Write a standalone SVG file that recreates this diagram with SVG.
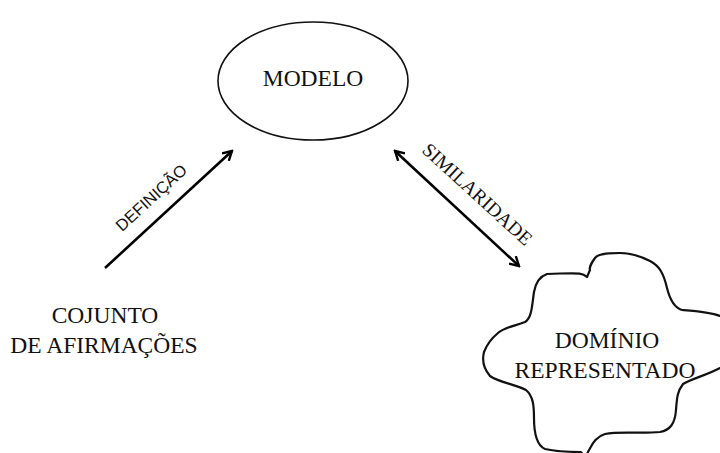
<svg xmlns="http://www.w3.org/2000/svg" width="720" height="453" viewBox="0 0 720 453">
<defs>
<style>
.lbl{font-family:"Liberation Serif","DejaVu Serif",serif;font-size:23.5px;fill:#111;text-anchor:middle}
.edge{stroke:#000;stroke-width:2.6;fill:none}
.elbl{fill:#111;text-anchor:middle}
.sans{font-family:"Liberation Sans","DejaVu Sans",sans-serif;font-size:16.5px}
.serif{font-family:"Liberation Serif","DejaVu Serif",serif;font-size:19.5px}
</style>
<marker id="ah" viewBox="0 0 12 12" refX="10" refY="6" markerWidth="12" markerHeight="12" markerUnits="userSpaceOnUse" orient="auto-start-reverse">
<path d="M1,1 L10,6 L1,11" fill="none" stroke="#000" stroke-width="2.4" stroke-linejoin="miter"/>
</marker>
</defs>
<rect width="720" height="453" fill="#fff"/>
<g id="modelo">
<ellipse cx="313" cy="81" rx="95" ry="59" fill="#fff" stroke="#111" stroke-width="1.6"/>
<text class="lbl" x="313" y="86">MODELO</text>
</g>
<g id="afirmacoes">
<text class="lbl" x="105" y="323">COJUNTO</text>
<text class="lbl" x="104" y="353">DE AFIRMAÇÕES</text>
</g>
<g id="dominio">
<path d="M587,277 C583,273 580,273 560,273.5 L547,274 C541,276 536,281 534,292 C532,305 532,318 525,322 C515,326 505,327 498,333 C492,338 487,344 484,352 C482,360 483,368 490,376 C500,383 515,384 526,390 C533,396 534,405 534,418 C534,432 536,445 545,449 C558,452 570,452 581,452 L585,458 L589,450 C592,445 595,437 605,434 C620,431 640,434 660,432 C670,430 675,424 676,410 C677,398 677,392 683,384 C693,378 705,376 720,368 L730,366 L730,318 L720,316 C710,312 695,311 682,310 C675,308 670,300 667,288 C664,275 660,266 650,261 C640,256 630,253 620,253 C605,253 598,254 595,258 C592,262 589,268 590,270 Z" fill="#fff" stroke="#111" stroke-width="2.2" stroke-linejoin="round"/>
<text class="lbl" x="607" y="348">DOMÍNIO</text>
<text class="lbl" x="605" y="378">REPRESENTADO</text>
</g>
<g id="connectors">
<line class="edge" x1="105" y1="268" x2="232" y2="151" marker-end="url(#ah)"/>
<text class="elbl sans" transform="translate(155,202) rotate(-42.5)">DEFINIÇÃO</text>
<line class="edge" x1="395" y1="151" x2="519" y2="266" marker-start="url(#ah)" marker-end="url(#ah)"/>
<text class="elbl serif" transform="translate(473,199) rotate(42.5)">SIMILARIDADE</text>
</g>
</svg>
